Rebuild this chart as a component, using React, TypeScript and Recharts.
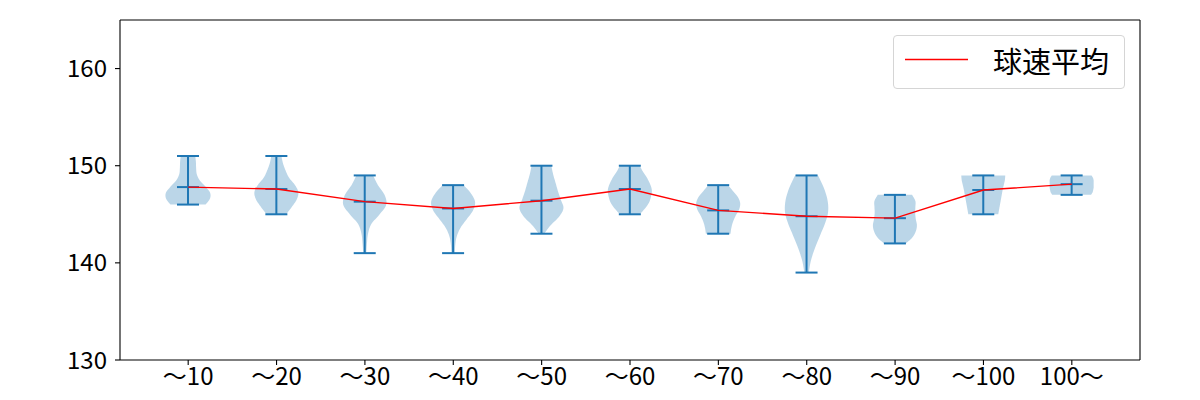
import { ComposedChart, Bar, Line, XAxis, YAxis } from "recharts";

const labels = ["～10", "～20", "～30", "～40", "～50", "～60", "～70", "～80", "～90", "～100", "100～"];
const mins = [146, 145, 141, 141, 143, 145, 143, 139, 142, 145, 147];
const maxs = [151, 151, 149, 148, 150, 150, 148, 149, 147, 149, 149];
const means = [147.8, 147.6, 146.3, 145.6, 146.4, 147.6, 145.4, 144.8, 144.6, 147.5, 148.1];
// relative half-widths of each violin, sampled evenly from min (first) to max (last)
const densities = [
  [0.8, 1.0, 1.0, 0.78, 0.53, 0.4, 0.37, 0.36, 0.33],
  [0.45, 0.7, 0.92, 1.0, 0.85, 0.58, 0.42, 0.3, 0.23],
  [0.07, 0.1, 0.15, 0.3, 0.68, 0.98, 0.9, 0.6, 0.38],
  [0.08, 0.1, 0.17, 0.34, 0.62, 0.9, 1.0, 0.82, 0.48],
  [0.12, 0.42, 0.8, 1.0, 0.88, 0.75, 0.64, 0.53, 0.45],
  [0.45, 0.7, 0.88, 0.97, 1.0, 0.92, 0.78, 0.6, 0.45],
  [0.56, 0.6, 0.68, 0.8, 0.95, 1.0, 0.9, 0.68, 0.45],
  [0.1, 0.2, 0.38, 0.6, 0.83, 0.98, 0.95, 0.78, 0.52],
  [0.5, 0.8, 0.95, 1.0, 0.95, 0.92, 0.93, 0.93, 0.78],
  [0.68, 0.72, 0.76, 0.8, 0.84, 0.88, 0.93, 0.98, 1.0],
  [0.88, 0.95, 0.98, 1.0, 1.0, 1.0, 1.0, 0.97, 0.9],
];
const yTicks = [130, 140, 150, 160];
const legendLabel = "球速平均";

const BLUE = "#1f77b4";
const FONT = "'Noto Sans CJK JP', 'Noto Sans', sans-serif";
const AXIS = { stroke: "#000", strokeWidth: 1.1 };

const data = labels.map((label, i) => ({
  label,
  range: [mins[i], maxs[i]],
  mean: means[i],
  min: mins[i],
  max: maxs[i],
  dens: densities[i],
}));

// catmull-rom through points -> smooth polyline
const smooth = (pts: [number, number][], steps = 8) => {
  const out: [number, number][] = [];
  for (let i = 0; i < pts.length - 1; i++) {
    const p0 = pts[Math.max(i - 1, 0)];
    const p1 = pts[i];
    const p2 = pts[i + 1];
    const p3 = pts[Math.min(i + 2, pts.length - 1)];
    for (let s = 0; s < steps; s++) {
      const t = s / steps;
      const t2 = t * t;
      const t3 = t2 * t;
      const f = (a: number, b: number, c: number, d: number) =>
        0.5 * (2 * b + (-a + c) * t + (2 * a - 5 * b + 4 * c - d) * t2 + (-a + 3 * b - 3 * c + d) * t3);
      out.push([f(p0[0], p1[0], p2[0], p3[0]), f(p0[1], p1[1], p2[1], p3[1])]);
    }
  }
  out.push(pts[pts.length - 1]);
  return out;
};

const Violin = (props: any) => {
  const { x, y, width, height, payload } = props;
  if (x == null || y == null) return null;
  const top = Math.min(y, y + height);
  const bottom = Math.max(y, y + height);
  const cx = x + width / 2;
  const half = width / 2;
  const dens: number[] = payload.dens;
  const n = dens.length;
  // sample i goes from min (bottom) to max (top)
  const ys = dens.map((_, i) => bottom - (i / (n - 1)) * (bottom - top));
  const right = smooth(dens.map((d, i) => [cx + d * half, ys[i]] as [number, number]));
  const left = smooth(dens.map((d, i) => [cx - d * half, ys[i]] as [number, number]));
  const path =
    "M" +
    left.map((p) => `${p[0]},${p[1]}`).join("L") +
    "L" +
    right
      .slice()
      .reverse()
      .map((p) => `${p[0]},${p[1]}`)
      .join("L") +
    "Z";
  const yMean = bottom - ((payload.mean - payload.min) / (payload.max - payload.min)) * (bottom - top);
  const cap = half / 2;
  return (
    <g>
      <path d={path} fill={BLUE} fillOpacity={0.3} stroke="none" />
      <line x1={cx} x2={cx} y1={top} y2={bottom} stroke={BLUE} strokeWidth={2} />
      <line x1={cx - cap} x2={cx + cap} y1={top} y2={top} stroke={BLUE} strokeWidth={2} />
      <line x1={cx - cap} x2={cx + cap} y1={bottom} y2={bottom} stroke={BLUE} strokeWidth={2} />
      <line x1={cx - cap} x2={cx + cap} y1={yMean} y2={yMean} stroke={BLUE} strokeWidth={2} />
    </g>
  );
};

const LegendBox = () => (
  <div
    style={{
      position: "absolute",
      left: 893,
      top: 35,
      boxSizing: "border-box",
      width: 232,
      height: 54,
      border: "1px solid #d5d5d5",
      borderRadius: 4,
      background: "rgba(255,255,255,0.8)",
      fontFamily: FONT,
    }}
  >
    <svg width={80} height={52} style={{ position: "absolute", left: 0, top: 0 }}>
      <line x1={11} x2={74} y1={23.5} y2={23.5} stroke="red" strokeWidth={1.4} />
    </svg>
    <span
      style={{
        position: "absolute",
        left: 99,
        top: 4,
        fontSize: 29,
        lineHeight: "40px",
        color: "#000",
      }}
    >
      {legendLabel}
    </span>
  </div>
);

export default function App() {
  return (
    <div style={{ position: "absolute", left: 0, top: 0, width: 1200, height: 400, background: "#fff" }}>
      <ComposedChart width={1200} height={400} data={data} margin={{ top: 19, right: 59, bottom: 0, left: 0 }}>
        <XAxis
          dataKey="label"
          height={40}
          padding={{ left: 24, right: 24 }}
          tickSize={5}
          tickMargin={3}
          stroke="#000"
          tick={{ fill: "#000", fontSize: 24, fontFamily: FONT }}
          axisLine={AXIS}
          tickLine={AXIS}
          interval={0}
        />
        <XAxis
          xAxisId="top"
          dataKey="label"
          orientation="top"
          height={1}
          padding={{ left: 24, right: 24 }}
          stroke="#000"
          tick={false}
          tickLine={false}
          axisLine={AXIS}
        />
        <YAxis
          type="number"
          domain={[130, 165]}
          ticks={yTicks}
          width={120}
          tickSize={5}
          tickMargin={8}
          allowDataOverflow
          stroke="#000"
          tick={{ fill: "#000", fontSize: 24, fontFamily: FONT }}
          axisLine={AXIS}
          tickLine={AXIS}
        />
        <YAxis
          yAxisId="right"
          orientation="right"
          type="number"
          domain={[130, 165]}
          allowDataOverflow
          width={1}
          stroke="#000"
          tick={false}
          tickLine={false}
          axisLine={AXIS}
        />
        <Bar dataKey="range" barSize={44} shape={<Violin />} isAnimationActive={false} />
        {/* invisible copy so the top/right frame axes have a series bound */}
        <Line
          xAxisId="top"
          yAxisId="right"
          dataKey="mean"
          stroke="none"
          dot={false}
          activeDot={false}
          legendType="none"
          isAnimationActive={false}
        />
        <Line
          type="linear"
          dataKey="mean"
          name={legendLabel}
          stroke="red"
          strokeWidth={1.4}
          dot={false}
          activeDot={false}
          isAnimationActive={false}
        />
      </ComposedChart>
      <LegendBox />
    </div>
  );
}
